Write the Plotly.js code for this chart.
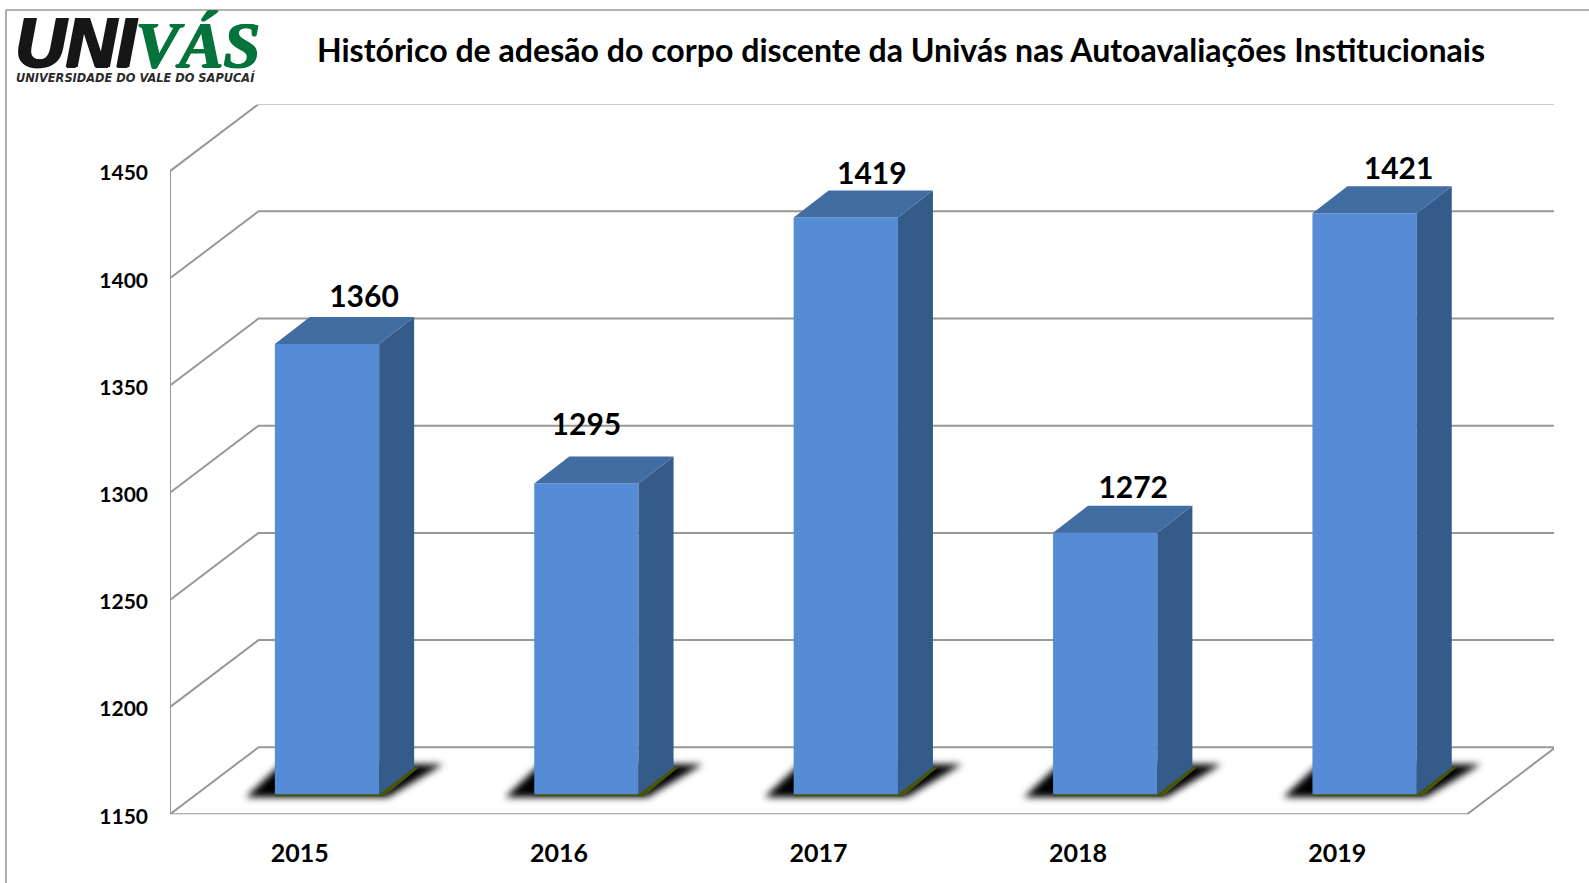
<!DOCTYPE html>
<html><head><meta charset="utf-8">
<script src="https://cdn.plot.ly/plotly-3.0.1.min.js"></script>
<style>html,body{margin:0;padding:0;background:#fff}</style>
</head><body><div id="chart" style="width:1589px;height:883px"></div>
<script>
const categories = ["2015","2016","2017","2018","2019"];
const values = [1360,1295,1419,1272,1421];
const yTicks = [1150,1200,1250,1300,1350,1400,1450];
const titleText = "Histórico de adesão do corpo discente da Univás nas Autoavaliações Institucionais";
// hand placement of the value labels in the reference, in pixels
const labelNudgeX = [2,-35,-9,-7,-1];
const labelNudgeY = [3,14,-1,0,0];

const W=1589,H=883;
const px=x=>x/W, py=y=>1-y/H;
const FONT="Lato, Carlito, Calibri, sans-serif";
const pxPerCat=259.4, pxPerUnit=2.144;
const wallDX=88.5/pxPerCat, wallDY=67/pxPerUnit;
const barDX=35/pxPerCat, barDY=27/pxPerUnit;
const liftX=27.3/pxPerCat, liftY=20/pxPerUnit;
const barW=104.3/pxPerCat;
const idx=categories.map((_,i)=>i);
const base=yTicks[0], top_=yTicks[yTicks.length-1];
const GRID="#989898";

const traces=[];
function poly(x,y,color,xa,ya){
  traces.push({type:"scatter",mode:"lines",x:[...x,x[0]],y:[...y,y[0]],fill:"toself",fillcolor:color,
    line:{width:0,color:color},hoverinfo:"skip",showlegend:false,xaxis:xa||"x",yaxis:ya||"y",cliponaxis:false});
}
yTicks.forEach((v,k)=>{
  const xs=k===0?[-0.5,-0.5+wallDX,4.5+wallDX,4.5,-0.5]:[-0.5,-0.5+wallDX,4.5+wallDX];
  const ys=k===0?[v,v+wallDY,v+wallDY,v,v]:[v,v+wallDY,v+wallDY];
  traces.push({type:"scatter",mode:"lines",x:xs,y:ys,line:{color:GRID,width:2},hoverinfo:"skip",showlegend:false,cliponaxis:false});
});
traces.push({type:"scatter",mode:"lines",x:[-0.5,-0.5],y:[base,top_],line:{color:GRID,width:2},hoverinfo:"skip",showlegend:false,cliponaxis:false});
const firstShadow=traces.length;
idx.forEach(i=>{
  const xl=i-barW/2+liftX, xr=i+barW/2+liftX, b=base+liftY;
  const hx=29/pxPerCat, vy=3/pxPerUnit;
  poly([xl-hx,xr+hx*0.3,xr+barDX+hx,xl+barDX-hx],[b-vy,b-vy,b+barDY+vy,b+barDY+vy],"#000");
  const e=5/pxPerCat, f=2.3/pxPerUnit;
  poly([xl,xr+e,xr+barDX+e,xl+barDX],[b-f,b-f,b+barDY,b+barDY],"#47540f");
});
traces.push({type:"bar",x:idx,y:values,width:barW,marker:{color:"#568BD6",line:{width:0}},
  hoverinfo:"skip",showlegend:false,xaxis:"x2",yaxis:"y2"});
idx.forEach(i=>{
  const xl=i-barW/2,xr=i+barW/2,v=values[i];
  poly([xr,xr+barDX,xr+barDX,xr],[base,base+barDY,v+barDY,v],"#355B8A","x2","y2");
  poly([xl,xr,xr+barDX,xl+barDX],[v,v,v+barDY,v+barDY],"#416DA3","x2","y2");
});
traces.push({type:"scatter",mode:"text",x:idx.map(i=>i+barDX+labelNudgeX[i]/pxPerCat),y:idx.map(i=>values[i]+barDY+labelNudgeY[i]/pxPerUnit),
  text:values.map(String),textposition:"top center",cliponaxis:false,
  textfont:{family:FONT,size:30,color:"#000",weight:700},hoverinfo:"skip",showlegend:false,xaxis:"x2",yaxis:"y2"});

const logoText="<span style='fill:#161616;text-shadow:2px 0 0 #161616,-1px 0 0 #161616,0 1px 0 #161616'>UNI</span>"+
  "<span style=\"fill:#05743c;font-family:'Liberation Sans Narrow';font-size:66px;text-shadow:1px 0 0 #05743c,-1px 0 0 #05743c,0 1px 0 #05743c\">VÁS</span>";

const layout={
  width:W,height:H,margin:{l:0,r:0,t:0,b:0},paper_bgcolor:"#fff",plot_bgcolor:"rgba(0,0,0,0)",
  showlegend:false,hovermode:false,font:{family:FONT,color:"#000"},
  title:{text:titleText,x:px(901),y:py(51),xref:"paper",yref:"paper",xanchor:"center",yanchor:"middle",
    font:{family:FONT,size:32.1,color:"#000",weight:700}},
  xaxis:{domain:[px(170),px(1554)],range:[-0.5,-0.5+1384/pxPerCat],tickmode:"array",tickvals:idx,ticktext:categories,
    showgrid:false,zeroline:false,showline:false,ticks:"",ticklabelstandoff:22,
    tickfont:{family:FONT,size:25,color:"#000",weight:700},fixedrange:true},
  yaxis:{domain:[py(814.3),py(104.5)],range:[base,base+(814.3-104.5)/pxPerUnit],tickmode:"array",tickvals:yTicks,
    showgrid:false,zeroline:false,showline:false,ticks:"",ticklabelstandoff:21,ticklabelshift:2,
    tickfont:{family:FONT,size:21,color:"#000",weight:700},fixedrange:true},
  xaxis2:{anchor:"y2",domain:[px(197.3),px(1554)],range:[-129.7/pxPerCat,(1554-327)/pxPerCat],visible:false,fixedrange:true},
  yaxis2:{anchor:"x2",domain:[py(794.3),py(104.5)],range:[base,base+(794.3-104.5)/pxPerUnit],visible:false,fixedrange:true},
  shapes:[
    {type:"line",xref:"paper",yref:"paper",x0:px(6),x1:px(6),y0:0,y1:py(10),line:{color:"#9a9a9a",width:1.6}},
    {type:"line",xref:"paper",yref:"paper",x0:px(6),x1:1,y0:py(10),y1:py(10),line:{color:"#9a9a9a",width:1.6}}
  ],
  annotations:[
    {text:logoText,xref:"paper",yref:"paper",x:px(13),y:py(43),xanchor:"left",yanchor:"middle",showarrow:false,
     font:{family:"Liberation Sans",size:70,color:"#161616",weight:700,style:"italic"}},
    {text:"UNIVERSIDADE DO VALE DO SAPUCAÍ",xref:"paper",yref:"paper",x:px(14),y:py(77.5),xanchor:"left",yanchor:"middle",showarrow:false,
     font:{family:"DejaVu Sans",size:11.4,color:"#2b2b2b",weight:700,style:"italic"}}
  ]
};
Plotly.newPlot("chart",traces,layout,{displayModeBar:false,staticPlot:true}).then(()=>{
  // soften the floor shadows (every other trace after the walls)
  document.querySelectorAll(".subplot.xy .scatterlayer .trace").forEach((el,k)=>{
    if(k>=firstShadow && (k-firstShadow)%2===0) el.style.filter="blur(3.5px)";
  });
});
</script></body></html>
